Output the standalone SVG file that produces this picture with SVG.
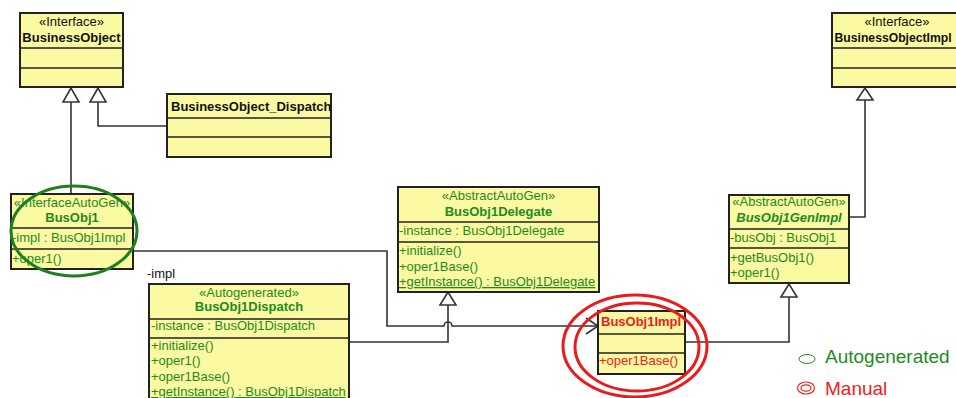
<svg xmlns="http://www.w3.org/2000/svg" width="956" height="398" viewBox="0 0 956 398">
  <style>
    .box { fill: #fbf9a2; stroke: #222; stroke-width: 2; }
    .div { stroke: #222; stroke-width: 1.5; }
    text { font-family: "Liberation Sans", Arial, sans-serif; font-size: 13px; }
    .b { font-weight: bold; }
    .k { fill: #111; }
    .g { fill: #1f8a1f; }
    .r { fill: #f02020; }
    .c { text-anchor: middle; }
    .u { text-decoration: underline; }
    .edge { fill: none; stroke: #333; stroke-width: 1.6; }
    .tri { fill: #fff; stroke: #333; stroke-width: 1.6; }
    .auto { fill: none; stroke: #1f7f1f; stroke-width: 3; }
    .man { fill: none; stroke: #e81c1c; stroke-width: 3; }
    .legend { font-size: 19px; }
    .tight { font-size: 12.2px; }
  </style>
  <rect width="956" height="398" fill="#fff"/>

  <g id="connectors">
    <!-- BusObj1 realizes BusinessObject -->
    <path class="edge" d="M71,194 V102"/>
    <polygon class="tri" points="71,88 63,102 79,102"/>
    <!-- BusinessObject_Dispatch realizes BusinessObject -->
    <path class="edge" d="M167,126 H98 V102"/>
    <polygon class="tri" points="98,88 90,102 106,102"/>
    <!-- BusObj1 -impl association to BusObj1Impl, hopping over the delegate link -->
    <path class="edge" d="M133,251 H387 V326 H444 a4,4 0 0 1 8,0 H597"/>
    <path class="edge" d="M586,318 L598,326 L586,334"/>
    <!-- BusObj1Dispatch extends BusObj1Delegate -->
    <path class="edge" d="M349,342 H448 V305"/>
    <polygon class="tri" points="448,292 440,305 456,305"/>
    <!-- BusObj1Impl extends BusObj1GenImpl -->
    <path class="edge" d="M685,342 H789 V297"/>
    <polygon class="tri" points="789,284 781,297 797,297"/>
    <!-- BusObj1GenImpl realizes BusinessObjectImpl -->
    <path class="edge" d="M849,217 H865 V100"/>
    <polygon class="tri" points="865,88 857,100 873,100"/>
    <text class="k" x="147" y="278">-impl</text>
  </g>

  <g id="BusinessObject">
    <rect class="box" x="20" y="13" width="103" height="74"/>
    <line class="div" x1="20" y1="48" x2="123" y2="48"/>
    <line class="div" x1="20" y1="68" x2="123" y2="68"/>
    <text class="k c" x="71.5" y="26">«Interface»</text>
    <text class="k c b" x="71.5" y="42">BusinessObject</text>
  </g>

  <g id="BusinessObject_Dispatch">
    <rect class="box" x="167" y="94" width="164" height="63"/>
    <line class="div" x1="167" y1="118" x2="331" y2="118"/>
    <line class="div" x1="167" y1="137" x2="331" y2="137"/>
    <text class="k b" x="171" y="111">BusinessObject_Dispatch</text>
  </g>

  <!-- box runs past the right edge of the sheet -->
  <g id="BusinessObjectImpl">
    <rect class="box" x="832" y="13" width="140" height="74"/>
    <line class="div" x1="832" y1="48" x2="972" y2="48"/>
    <line class="div" x1="832" y1="68" x2="972" y2="68"/>
    <text class="k c" x="897" y="26">«Interface»</text>
    <text class="k b tight" x="834.5" y="42">BusinessObjectImpl</text>
  </g>

  <g id="BusObj1">
    <rect class="box" x="11" y="194" width="122" height="75"/>
    <line class="div" x1="11" y1="228" x2="133" y2="228"/>
    <line class="div" x1="11" y1="249" x2="133" y2="249"/>
    <text class="g c" x="72" y="207">«InterfaceAutoGen»</text>
    <text class="g c b" x="72" y="222">BusObj1</text>
    <text class="g" x="12" y="242">-impl : BusObj1Impl</text>
    <text class="g" x="12" y="263">+oper1()</text>
    <ellipse class="auto" cx="74" cy="231" rx="63" ry="45"/>
  </g>

  <g id="BusObj1Dispatch">
    <rect class="box" x="149" y="284" width="200" height="130"/>
    <line class="div" x1="149" y1="319" x2="349" y2="319"/>
    <line class="div" x1="149" y1="338" x2="349" y2="338"/>
    <text class="g c" x="249" y="297">«Autogenerated»</text>
    <text class="g c b" x="249" y="311">BusObj1Dispatch</text>
    <text class="g" x="151" y="330">-instance : BusObj1Dispatch</text>
    <text class="g" x="151" y="350">+initialize()</text>
    <text class="g" x="151" y="365">+oper1()</text>
    <text class="g" x="151" y="381">+oper1Base()</text>
    <text class="g u" x="151" y="396">+getInstance() : BusObj1Dispatch</text>
  </g>

  <g id="BusObj1Delegate">
    <rect class="box" x="398" y="187" width="201" height="105"/>
    <line class="div" x1="398" y1="222" x2="599" y2="222"/>
    <line class="div" x1="398" y1="242" x2="599" y2="242"/>
    <text class="g c" x="498.5" y="200">«AbstractAutoGen»</text>
    <text class="g c b" x="498.5" y="216">BusObj1Delegate</text>
    <text class="g" x="399" y="235">-instance : BusObj1Delegate</text>
    <text class="g" x="399" y="255">+initialize()</text>
    <text class="g" x="399" y="271">+oper1Base()</text>
    <text class="g u" x="399" y="286">+getInstance() : BusObj1Delegate</text>
  </g>

  <g id="BusObj1GenImpl">
    <rect class="box" x="729" y="195" width="120" height="88"/>
    <line class="div" x1="729" y1="229" x2="849" y2="229"/>
    <line class="div" x1="729" y1="248" x2="849" y2="248"/>
    <text class="g c" x="789" y="206">«AbstractAutoGen»</text>
    <text class="g c b" x="789" y="222" font-style="italic">BusObj1GenImpl</text>
    <text class="g" x="730" y="242">-busObj : BusObj1</text>
    <text class="g" x="730" y="262">+getBusObj1()</text>
    <text class="g" x="730" y="277">+oper1()</text>
  </g>

  <g id="BusObj1Impl">
    <rect class="box" x="598" y="311" width="87" height="63"/>
    <line class="div" x1="598" y1="334" x2="685" y2="334"/>
    <line class="div" x1="598" y1="353" x2="685" y2="353"/>
    <text class="r b" x="601" y="326">BusObj1Impl</text>
    <text class="r" x="599" y="365">+oper1Base()</text>
    <ellipse class="man" cx="635" cy="346" rx="72" ry="51"/>
    <ellipse class="man" cx="637" cy="347" rx="62" ry="44"/>
  </g>

  <g id="legend">
    <ellipse cx="807" cy="359" rx="8" ry="4.5" fill="none" stroke="#1f8a1f" stroke-width="1"/>
    <text class="legend" x="825" y="363" fill="#1f8a1f">Autogenerated</text>
    <ellipse cx="806" cy="388" rx="8.5" ry="6" fill="none" stroke="#f02020" stroke-width="1.2"/>
    <ellipse cx="806" cy="388" rx="5" ry="3.2" fill="none" stroke="#f02020" stroke-width="1.2"/>
    <text class="legend" x="825" y="395" fill="#f02020">Manual</text>
  </g>
</svg>
